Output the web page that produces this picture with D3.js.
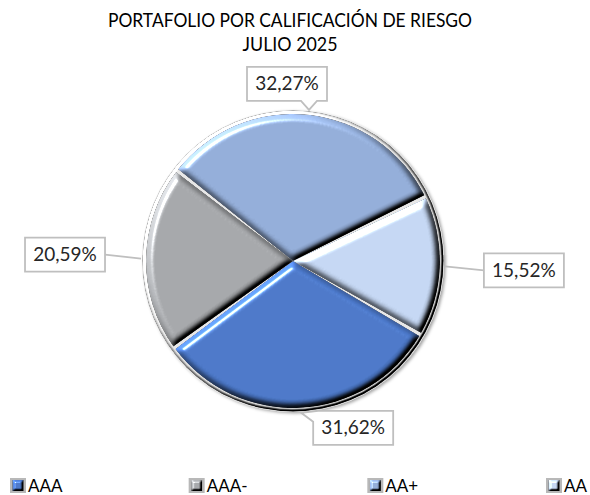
<!DOCTYPE html>
<html>
<head>
<meta charset="utf-8">
<script src="https://cdn.jsdelivr.net/npm/d3@7"></script>
<style>
  body { margin: 0; background: #fff; }
  svg { display: block; font-family: Lato, "Open Sans", sans-serif; }
</style>
</head>
<body>
<svg id="chart" width="590" height="495"></svg>
<script>
const categories = ["AAA", "AAA-", "AA+", "AA"];
const values = [31.62, 20.59, 32.27, 15.52];
const colors = ["#4a76c6", "#a3a5a8", "#91abd6", "#c2d4f0"];
const titleLines = ["PORTAFOLIO POR CALIFICACIÓN DE RIESGO", "JULIO 2025"];

// label placement relative to the slice anchor (box centre offset)
const labelLayout = [
    {"dx": 52, "dy": 15, "kind": "topleft"},
    {"dx": -76, "dy": -4, "kind": "line"},
    {"dx": -22, "dy": -26, "kind": "bottom"},
    {"dx": 79, "dy": 4, "kind": "line"}
];

var svg = d3.select("svg#chart");
const width = 590, height = 495;
const cx = 293, cy = 261, R = 151;

const data = categories.map((c, i) => ({"cat": c, "value": values[i], "color": colors[i]}));

var defs = svg.append("defs");

function addBevel(id, blur, scale) {
    var f = defs.append("filter").attr("id", id)
        .attr("x", "-10%").attr("y", "-10%").attr("width", "120%").attr("height", "120%")
        .attr("color-interpolation-filters", "sRGB");
    f.append("feGaussianBlur").attr("in", "SourceAlpha").attr("stdDeviation", blur).attr("result", "blur");
    var diff = f.append("feDiffuseLighting").attr("in", "blur")
        .attr("surfaceScale", scale).attr("diffuseConstant", 0.72)
        .attr("lighting-color", "#fff").attr("result", "diff");
    diff.append("feDistantLight").attr("azimuth", 225).attr("elevation", 45);
    f.append("feComposite").attr("in", "SourceGraphic").attr("in2", "diff")
        .attr("operator", "arithmetic").attr("k1", 1.95).attr("k2", 0).attr("k3", 0).attr("k4", 0)
        .attr("result", "shaded");
    var spec = f.append("feSpecularLighting").attr("in", "blur")
        .attr("surfaceScale", scale).attr("specularConstant", 0.9).attr("specularExponent", 60)
        .attr("lighting-color", "#fff").attr("result", "spec");
    spec.append("feDistantLight").attr("azimuth", 225).attr("elevation", 50);
    f.append("feComposite").attr("in", "spec").attr("in2", "SourceAlpha").attr("operator", "in").attr("result", "specIn");
    f.append("feComposite").attr("in", "shaded").attr("in2", "specIn")
        .attr("operator", "arithmetic").attr("k1", 0).attr("k2", 1).attr("k3", 1).attr("k4", 0).attr("result", "lit");
    f.append("feComposite").attr("in", "lit").attr("in2", "SourceAlpha").attr("operator", "in");
}
addBevel("bevel", 3, 5);
addBevel("bevelSmall", 1.2, 3);

var shadow = defs.append("filter").attr("id", "shadow")
    .attr("x", "-10%").attr("y", "-10%").attr("width", "120%").attr("height", "120%");
shadow.append("feDropShadow").attr("dx", 2).attr("dy", 1.5).attr("stdDeviation", 1.8)
    .attr("flood-color", "#000").attr("flood-opacity", 0.35);

// title, the original font is narrow so the lines are squeezed to its width
const titleWidths = [364, 95];
svg.append("g").selectAll("text")
    .data(titleLines)
    .join("text")
    .attr("x", 290)
    .attr("y", (d, i) => 27 + i * 24)
    .attr("text-anchor", "middle")
    .attr("font-size", 20)
    .attr("fill", "#000")
    .text(d => d)
    .each(function (d, i) {
        if (this.getComputedTextLength() > titleWidths[i])
            d3.select(this).attr("textLength", titleWidths[i]).attr("lengthAdjust", "spacingAndGlyphs");
    });

// pie
const pie = d3.pie().sort(null).value(d => d.value)
    .startAngle(120 * Math.PI / 180)
    .endAngle(120 * Math.PI / 180 + 2 * Math.PI);
const arcs = pie(data);

const g = svg.append("g").attr("transform", "translate(" + cx + "," + cy + ")");

g.append("circle")
    .attr("r", R)
    .attr("fill", "#dcdcdc")
    .attr("filter", "url(#shadow)");
g.append("circle")
    .attr("r", R - 0.5)
    .attr("fill", "#e4e4e4")
    .attr("filter", "url(#bevelSmall)");

const arc = d3.arc().innerRadius(0).outerRadius(R - 4)
    .padAngle(0.022).padRadius(R);

g.selectAll("path.slice")
    .data(arcs)
    .join("path")
    .attr("class", "slice")
    .attr("d", arc)
    .attr("fill", d => d.data.color)
    .attr("filter", "url(#bevel)");

// data labels
const fmt = v => d3.format(".2f")(v).replace(".", ",") + "%";
const boxW = 80, boxH = 34;

function calloutPath(b, tip, kind) {
    const x0 = b.x, y0 = b.y, x1 = b.x + boxW, y1 = b.y + boxH;
    if (kind == "bottom") {
        const bx = Math.max(x0 + 10, Math.min(x1 - 10, tip[0]));
        return "M" + x0 + "," + y0 + "H" + x1 + "V" + y1 + "H" + (bx + 8) +
            "L" + tip[0] + "," + tip[1] + "L" + (bx - 8) + "," + y1 + "H" + x0 + "Z";
    }
    if (kind == "topleft") {
        return "M" + (x0 + 5) + "," + y0 + "H" + x1 + "V" + y1 + "H" + x0 + "V" + (y0 + 11) +
            "L" + tip[0] + "," + tip[1] + "Z";
    }
    return "M" + x0 + "," + y0 + "H" + x1 + "V" + y1 + "H" + x0 + "Z";
}

svg.append("g").selectAll("g")
    .data(arcs)
    .join("g")
    .each(function (d, i) {
        const mid = (d.startAngle + d.endAngle) / 2;
        const tip = [cx + Math.sin(mid) * (R + 1), cy - Math.cos(mid) * (R + 1)];
        const lay = labelLayout[i];
        const b = {"x": tip[0] + lay.dx - boxW / 2, "y": tip[1] + lay.dy - boxH / 2};
        const sel = d3.select(this);
        if (lay.kind == "line") {
            const ex = lay.dx < 0 ? b.x + boxW : b.x;
            sel.append("path")
                .attr("d", d3.line()([[ex, b.y + boxH / 2], tip]))
                .attr("stroke", "#bfbfbf")
                .attr("stroke-width", 1.8)
                .attr("fill", "none");
        }
        sel.append("path")
            .attr("d", calloutPath(b, tip, lay.kind))
            .attr("fill", "#fff")
            .attr("stroke", "#bfbfbf")
            .attr("stroke-width", 1.8);
        sel.append("text")
            .attr("x", b.x + boxW / 2)
            .attr("y", b.y + boxH / 2)
            .attr("dy", "0.35em")
            .attr("text-anchor", "middle")
            .attr("font-size", 19)
            .attr("fill", "#262626")
            .text(fmt(d.data.value));
    });

// legend
const legendX = d3.scalePoint().domain(categories).range([10, 546]);
const legend = svg.append("g").selectAll("g")
    .data(data)
    .join("g")
    .attr("transform", d => "translate(" + legendX(d.cat) + "," + 478 + ")");
legend.append("rect")
    .attr("width", 16).attr("height", 15)
    .attr("fill", "#b8b8b8");
legend.append("rect")
    .attr("x", 2.5).attr("y", 2)
    .attr("width", 11).attr("height", 11)
    .attr("fill", d => d.color)
    .attr("filter", "url(#bevelSmall)");
legend.append("text")
    .attr("x", 18)
    .attr("y", 8)
    .attr("dy", "0.35em")
    .attr("font-size", 17)
    .attr("fill", "#000")
    .text(d => d.cat);
</script>
</body>
</html>
